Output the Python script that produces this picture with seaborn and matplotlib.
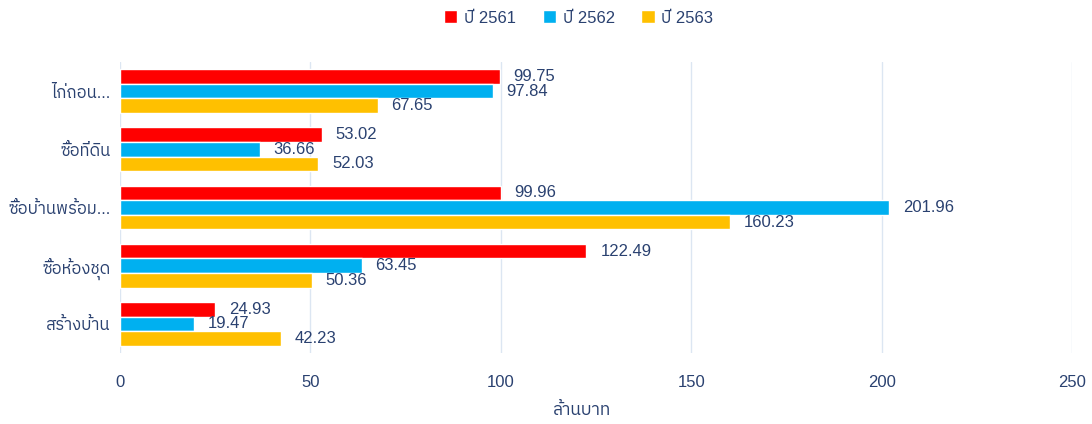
import pandas as pd
import seaborn as sns
import matplotlib.pyplot as plt
from matplotlib import font_manager
from matplotlib.patches import Patch

# Chart data:
categories = ['ไก่ถอน...', 'ซื้อที่ดิน', 'ซื้อบ้านพร้อม...', 'ซื้อห้องชุด', 'สร้างบ้าน']
years = ['ปี 2561', 'ปี 2562', 'ปี 2563']
values_2561 = [99.75, 53.02, 99.96, 122.49, 24.93]
values_2562 = [97.84, 36.66, 201.96, 63.45, 19.47]
values_2563 = [67.65, 52.03, 160.23, 50.36, 42.23]
x_ticks = [0, 50, 100, 150, 200, 250]

palette = {'ปี 2561': '#ff0000', 'ปี 2562': '#00b0f0', 'ปี 2563': '#ffc000'}
text_color = '#2a4170'
grid_color = '#dce6f2'

rows = []
for year, vals in zip(years, [values_2561, values_2562, values_2563]):
    for cat, v in zip(categories, vals):
        rows.append({'category': cat, 'year': year, 'value': v})
df = pd.DataFrame(rows)

sns.set_theme(style='white')
# Arial-like digits, with a Thai-capable font as fallback for Thai glyphs:
thai_fonts = sorted({f.name for f in font_manager.fontManager.ttflist if 'thai' in f.name.lower()})
plt.rcParams['font.family'] = ['Liberation Sans'] + thai_fonts + ['DejaVu Sans']

fig = plt.figure(figsize=(10.92, 4.24), dpi=100)
ax = fig.add_axes([120 / 1092, 1 - 353 / 424, 952 / 1092, 291 / 424])

sns.barplot(data=df, x='value', y='category', hue='year', orient='h',
            palette=palette, width=0.75, gap=0, saturation=1, ax=ax, legend=False)

for container in ax.containers:
    ax.bar_label(container, fmt='%.2f', padding=10, fontsize=12, color=text_color)

ax.set_xlim(0, 250)
ax.set_ylim(4.5, -0.5)
ax.set_xticks(x_ticks)
ax.set_xticklabels([str(t) for t in x_ticks])
ax.tick_params(axis='x', colors=text_color, labelsize=12, length=0, pad=16)
ax.tick_params(axis='y', colors=text_color, labelsize=12, length=0, pad=7)
ax.grid(axis='x', color=grid_color, linewidth=1)
ax.set_axisbelow(True)
for spine in ax.spines.values():
    spine.set_visible(False)
ax.set_ylabel('')
ax.set_xlabel('ล้านบาท', color=text_color, fontsize=12.5)
ax.xaxis.set_label_coords(0.485, -49 / 291)

handles = [Patch(facecolor=palette[y], label=y) for y in years]
fig.legend(handles=handles, loc='center', bbox_to_anchor=(0.53, 1 - 18 / 424), ncol=3,
           frameon=False, fontsize=12, labelcolor=text_color, handlelength=0.8,
           handleheight=0.8, handletextpad=0.4, columnspacing=1.6)

fig.savefig('out.png', dpi=100)
